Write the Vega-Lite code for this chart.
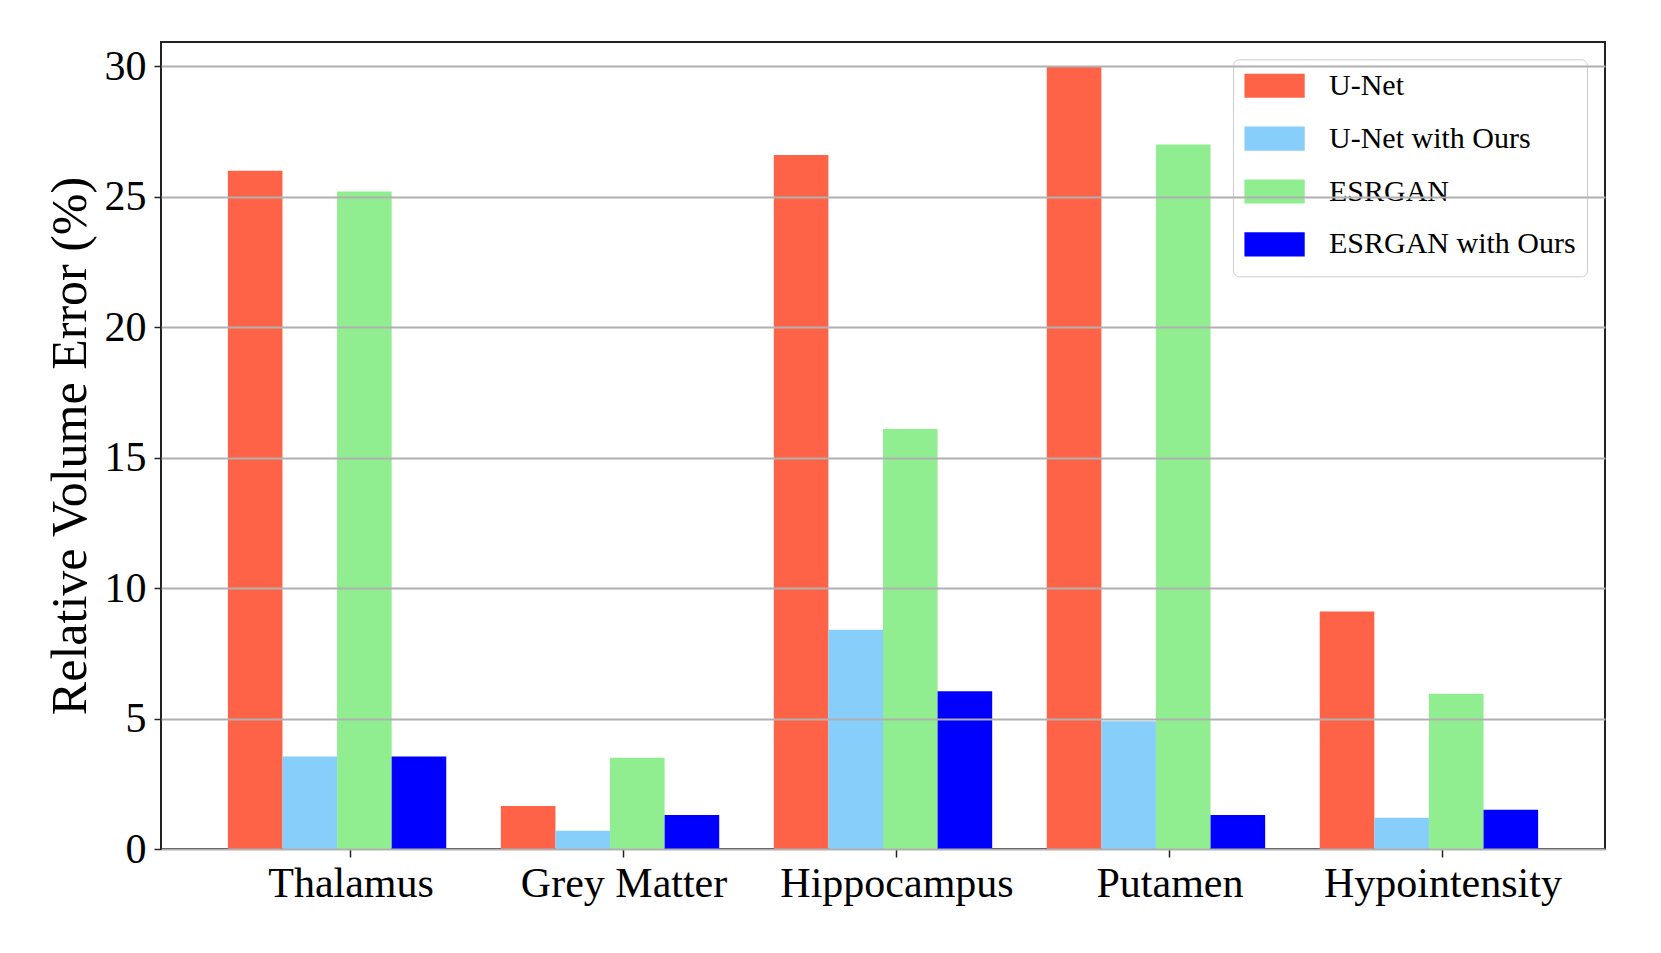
{
  "$schema": "https://vega.github.io/schema/vega-lite/v6.json",
  "autosize": "none",
  "width": 1444,
  "height": 807,
  "padding": {"left": 161, "top": 42, "right": 56, "bottom": 104},
  "background": "white",
  "config": {
    "view": {"stroke": "#222222", "strokeWidth": 2},
    "font": "Liberation Serif"
  },
  "data": {
    "values": [
      {"region": "Thalamus", "method": "U-Net", "value": 26.0},
      {"region": "Thalamus", "method": "U-Net with Ours", "value": 3.55},
      {"region": "Thalamus", "method": "ESRGAN", "value": 25.2},
      {"region": "Thalamus", "method": "ESRGAN with Ours", "value": 3.55},
      {"region": "Grey Matter", "method": "U-Net", "value": 1.65},
      {"region": "Grey Matter", "method": "U-Net with Ours", "value": 0.7},
      {"region": "Grey Matter", "method": "ESRGAN", "value": 3.5},
      {"region": "Grey Matter", "method": "ESRGAN with Ours", "value": 1.3},
      {"region": "Hippocampus", "method": "U-Net", "value": 26.6},
      {"region": "Hippocampus", "method": "U-Net with Ours", "value": 8.4},
      {"region": "Hippocampus", "method": "ESRGAN", "value": 16.1},
      {"region": "Hippocampus", "method": "ESRGAN with Ours", "value": 6.05},
      {"region": "Putamen", "method": "U-Net", "value": 30.0},
      {"region": "Putamen", "method": "U-Net with Ours", "value": 4.9},
      {"region": "Putamen", "method": "ESRGAN", "value": 27.0},
      {"region": "Putamen", "method": "ESRGAN with Ours", "value": 1.3},
      {"region": "Hypointensity", "method": "U-Net", "value": 9.1},
      {"region": "Hypointensity", "method": "U-Net with Ours", "value": 1.2},
      {"region": "Hypointensity", "method": "ESRGAN", "value": 5.95},
      {"region": "Hypointensity", "method": "ESRGAN with Ours", "value": 1.5}
    ]
  },
  "mark": {"type": "bar", "strokeWidth": 0},
  "encoding": {
    "x": {
      "field": "region",
      "type": "nominal",
      "sort": ["Thalamus", "Grey Matter", "Hippocampus", "Putamen", "Hypointensity"],
      "scale": {"paddingInner": 0.2, "paddingOuter": 0.245},
      "axis": {
        "title": null,
        "labelAngle": 0,
        "labelFont": "Liberation Serif",
        "labelFontSize": 42,
        "labelColor": "#000000",
        "labelPadding": 6,
        "labelLimit": 600,
        "labelOffset": 14,
        "tickSize": 8,
        "tickWidth": 1.5,
        "tickColor": "#222222",
        "domain": false,
        "grid": false,
        "bandPosition": 0.5625
      }
    },
    "xOffset": {
      "field": "method",
      "type": "nominal",
      "sort": ["U-Net", "U-Net with Ours", "ESRGAN", "ESRGAN with Ours"],
      "scale": {"paddingInner": 0, "paddingOuter": 0}
    },
    "y": {
      "field": "value",
      "type": "quantitative",
      "scale": {"domain": [0, 30.93], "nice": false, "zero": true},
      "axis": {
        "title": "Relative Volume Error (%)",
        "titleFont": "Liberation Serif",
        "titleFontSize": 50,
        "titleFontWeight": "normal",
        "titleColor": "#000000",
        "titlePadding": 9,
        "values": [0, 5, 10, 15, 20, 25, 30],
        "labelFont": "Liberation Serif",
        "labelFontSize": 42,
        "labelColor": "#000000",
        "labelPadding": 8,
        "tickSize": 7,
        "tickWidth": 1.5,
        "tickColor": "#222222",
        "domain": false,
        "grid": true,
        "gridColor": "#b0b0b0",
        "gridWidth": 2,
        "zindex": 1
      }
    },
    "color": {
      "field": "method",
      "type": "nominal",
      "sort": ["U-Net", "U-Net with Ours", "ESRGAN", "ESRGAN with Ours"],
      "scale": {
        "domain": ["U-Net", "U-Net with Ours", "ESRGAN", "ESRGAN with Ours"],
        "range": ["#FF6347", "#87CEFA", "#90EE90", "#0000FF"]
      },
      "legend": {
        "title": " ",
        "titleOrient": "bottom",
        "titleFontSize": 2,
        "titlePadding": 4,
        "orient": "none",
        "legendX": 1072,
        "legendY": 17.3,
        "symbolType": "M-1,-0.8H3V0.8H-1Z",
        "symbolSize": 909,
        "symbolStrokeWidth": 0,
        "symbolOpacity": 1,
        "labelFont": "Liberation Serif",
        "labelFontSize": 30,
        "labelColor": "#000000",
        "labelOffset": 54,
        "rowPadding": 21.85,
        "padding": 11,
        "strokeColor": "#cccccc",
        "fillColor": "rgba(255,255,255,0.8)",
        "cornerRadius": 6,
        "labelLimit": 400
      }
    }
  }
}
